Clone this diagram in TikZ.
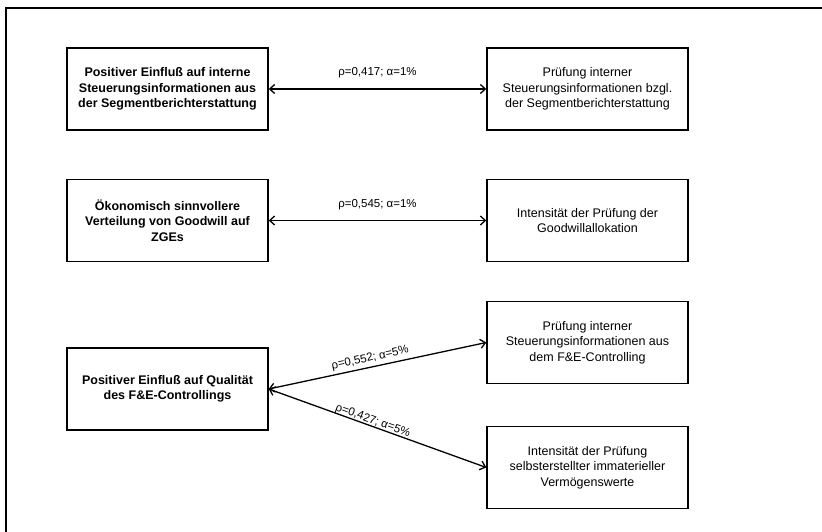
\documentclass[tikz,border=0pt]{standalone}
\usepackage{fontspec}
\setmainfont{Liberation Sans}
\usetikzlibrary{arrows.meta}
\begin{document}
\begin{tikzpicture}[x=1pt,y=-1pt,
  box/.style={draw, line width=1.4pt, minimum width=201pt, minimum height=82pt,
    align=center, inner sep=0pt, font=\fontsize{12.5}{15.5}\selectfont},
  cause/.style={box, font=\fontsize{12.5}{15.5}\selectfont\bfseries},
  link/.style={line width=1.3pt,
    {Straight Barb[length=5pt,width=9pt]}-{Straight Barb[length=5pt,width=9pt]}},
  lbl/.style={font=\fontsize{11.5}{13}\selectfont, inner sep=1pt}
]
\useasboundingbox (0,0) rectangle (822,532);

% outer frame (open to the right and bottom)
\draw[line width=1.2pt] (822,8) -- (6,8) -- (6,532);

% row 1
\node[cause] (b1) at (167.5,89) {Positiver Einfluß auf interne\\Steuerungsinformationen aus\\der Segmentberichterstattung};
\node[box] (b2) at (587.5,89) {Prüfung interner\\Steuerungsinformationen bzgl.\\der Segmentberichterstattung};
\draw[link] (b1.east) -- (b2.west) node[midway, above=9pt, lbl] {ρ=0,417; α=1\%};

% row 2
\node[cause] (b3) at (167.5,220.5) {Ökonomisch sinnvollere\\Verteilung von Goodwill auf\\ZGEs};
\node[box] (b4) at (587.5,220.5) {Intensität der Prüfung der\\Goodwillallokation};
\draw[link] (b3.east) -- (b4.west) node[midway, above=9pt, lbl] {ρ=0,545; α=1\%};

% row 3
\node[cause] (b5) at (167.5,389) {Positiver Einfluß auf Qualität\\des F\&E-Controllings};
\node[box] (b6) at (587.5,342.5) {Prüfung interner\\Steuerungsinformationen aus\\dem F\&E-Controlling};
\node[box] (b7) at (587.5,467.5) {Intensität der Prüfung\\selbsterstellter immaterieller\\Vermögenswerte};
\draw[link] (b5.east) -- (b6.west) node[pos=0.475, sloped, above=2pt, lbl] {ρ=0,552; α=5\%};
\draw[link] (b5.east) -- (b7.west) node[pos=0.47, sloped, above=-1.5pt, lbl] {ρ=0,427; α=5\%};
\end{tikzpicture}
\end{document}
